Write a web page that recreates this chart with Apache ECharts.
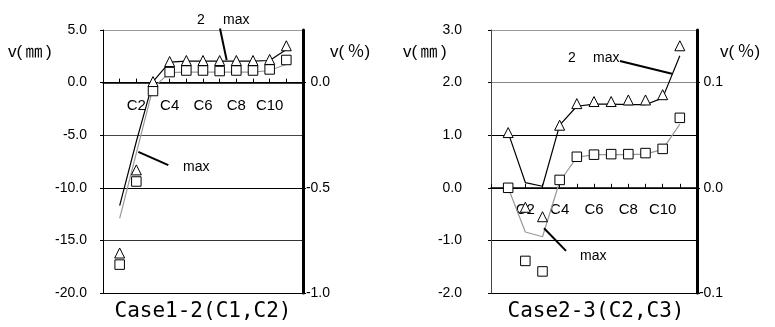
<!DOCTYPE html>
<html><head><meta charset="utf-8">
<script src="https://cdn.jsdelivr.net/npm/echarts@6/dist/echarts.min.js"></script>
<style>html,body{margin:0;padding:0;background:#fff}#c{width:775px;height:327px}</style>
</head><body><div id="c"></div>
<script>
// ---- data ----
const categories = ['C1','C2','C3','C4','C5','C6','C7','C8','C9','C10','C11'];
const xTickLabels = ['C2','C4','C6','C8','C10'];

// Case1-2 (mm)
const case1Tri   = [-16.2, -8.3, 0.1, 2.0, 2.1, 2.1, 2.1, 2.1, 2.1, 2.2, 3.5];
const case1Sq    = [-17.3, -9.4, -0.8, 1.0, 1.15, 1.15, 1.1, 1.15, 1.15, 1.25, 2.15];
const case1Black = [-11.7, -5.6, 0.1, 1.95, 2.05, 2.05, 2.05, 2.05, 2.05, 2.1, 3.15];
const case1Gray  = [-12.9, -6.7, -0.5, 0.95, 1.0, 1.0, 1.0, 1.0, 1.0, 1.15, 1.75];

// Case2-3 (mm)
const case2Tri   = [1.05, -0.37, -0.55, 1.19, 1.6, 1.64, 1.64, 1.67, 1.67, 1.77, 2.7];
const case2Sq    = [0.0, -1.39, -1.59, 0.15, 0.59, 0.63, 0.64, 0.64, 0.66, 0.74, 1.33];
const case2Black = [1.05, 0.1, 0.03, 1.19, 1.55, 1.59, 1.59, 1.58, 1.58, 1.71, 2.51];
const case2Gray  = [0.0, -0.84, -0.93, 0.12, 0.58, 0.63, 0.63, 0.63, 0.64, 0.73, 1.21];

// axis tick values
const case1MmTicks  = [-20, -15, -10, -5, 0, 5];
const case1PctTicks = [-1.0, -0.5, 0.0];
const case2MmTicks  = [-2, -1, 0, 1, 2, 3];
const case2PctTicks = [-0.1, 0.0, 0.1];

// leader lines (data coordinates: x = category position, y = mm)
const case1LeaderTop = [[7.02, 5.15], [7.42, 2.14]];
const case1LeaderLow = [[2.12, -6.58], [3.92, -7.84]];
const case2LeaderTop = [[7.51, 2.41], [10.54, 2.17]];
const case2LeaderLow = [[3.09, -0.77], [4.37, -1.2]];

// ---- chart ----
const pts = arr => categories.map((c, i) => [i + 1, arr[i]]);
const numFont = "'Liberation Sans', Arial, sans-serif";
const gridH = 263;

// offset that puts the category axis on the y = 0 line of the mm scale
const zeroOffset = ticks => -gridH * (0 - ticks[0]) / (ticks[ticks.length - 1] - ticks[0]);

function xAxis(gi, margin, ticks) {
  return {
    type: 'value', gridIndex: gi, min: 0, max: categories.length + 1, interval: 1,
    position: 'bottom', offset: zeroOffset(ticks),
    axisLine: { onZero: false, lineStyle: { color: '#000', width: 1.5 } },
    axisTick: { inside: true, length: 4, lineStyle: { color: '#000', width: 1 } },
    axisLabel: {
      margin: margin, color: '#000', fontSize: 15, fontFamily: numFont,
      formatter: v => { const c = categories[v - 1]; return c && xTickLabels.includes(c) ? c : ''; }
    },
    splitLine: { show: false }
  };
}
function yLeft(gi, ticks, margin, splitColors, axisColor) {
  return {
    type: 'value', gridIndex: gi, position: 'left',
    min: ticks[0], max: ticks[ticks.length - 1], interval: ticks[1] - ticks[0],
    axisLine: { show: true, onZero: false, lineStyle: { color: axisColor, width: 1 } },
    axisTick: { show: true, length: 3, lineStyle: { color: '#000' } },
    axisLabel: { margin: margin, color: '#000', fontSize: 14, fontFamily: numFont, formatter: v => v.toFixed(1) },
    splitLine: { show: true, lineStyle: { color: splitColors, width: 1 } }
  };
}
function yRight(gi, ticks, margin, maxV) {
  return {
    type: 'value', gridIndex: gi, position: 'right',
    min: ticks[0], max: maxV,
    axisLine: { show: true, onZero: false, lineStyle: { color: '#000', width: 3 } },
    axisTick: { show: true, length: 3, customValues: ticks, lineStyle: { color: '#000' } },
    axisLabel: { margin: margin, align: 'right', color: '#000', fontSize: 14, fontFamily: numFont,
      customValues: ticks, formatter: v => v.toFixed(1) },
    splitLine: { show: false }
  };
}
function lineSeries(xi, yi, data, color, width) {
  return { type: 'line', xAxisIndex: xi, yAxisIndex: yi, data: pts(data), symbol: 'none',
    lineStyle: { color: color, width: width }, z: 2, animation: false };
}
function markSeries(xi, yi, data, symbol, size) {
  return { type: 'scatter', xAxisIndex: xi, yAxisIndex: yi, data: pts(data), symbol: symbol, symbolSize: size,
    itemStyle: { color: '#fff', borderColor: '#000', borderWidth: 1, opacity: 1 }, z: 5, animation: false };
}
function leader(xi, yi, data) {
  return { type: 'line', xAxisIndex: xi, yAxisIndex: yi, data: data, symbol: 'none', clip: false,
    lineStyle: { color: '#000', width: 2 }, z: 6, animation: false };
}
function txt(x, y, text, size, family, align) {
  return { type: 'text', x: x, y: y,
    style: { text: text, fontSize: size, fontFamily: family, fill: '#000', align: align || 'left', verticalAlign: 'middle' } };
}

const chart = echarts.init(document.getElementById('c'), null, { renderer: 'canvas' });
const labelFont = "'Liberation Sans', 'Noto Sans CJK JP', sans-serif";
const titleFont = "'DejaVu Sans Mono', monospace";

chart.setOption({
  animation: false,
  backgroundColor: '#fff',
  grid: [
    { left: 103, top: 30, width: 200, height: gridH },
    { left: 491, top: 30, width: 206, height: gridH }
  ],
  xAxis: [xAxis(0, 16, case1MmTicks), xAxis(1, 15, case2MmTicks)],
  yAxis: [
    yLeft(0, case1MmTicks, 16, ['#000', '#333', '#000', '#444', '#000', '#999'], '#000'),
    yRight(0, case1PctTicks, 27, 0.25),
    yLeft(1, case2MmTicks, 29, ['#000', '#000', '#000', '#000', '#888', '#999'], '#444'),
    yRight(1, case2PctTicks, 26, 0.15)
  ],
  series: [
    lineSeries(0, 0, case1Gray, '#999', 1.2),
    lineSeries(0, 0, case1Black, '#000', 1.2),
    markSeries(0, 0, case1Sq, 'rect', 9.5),
    markSeries(0, 0, case1Tri, 'triangle', 10),
    leader(0, 0, case1LeaderTop),
    leader(0, 0, case1LeaderLow),
    lineSeries(1, 2, case2Gray, '#999', 1.2),
    lineSeries(1, 2, case2Black, '#000', 1.2),
    markSeries(1, 2, case2Sq, 'rect', 9.5),
    markSeries(1, 2, case2Tri, 'triangle', 10),
    leader(1, 2, case2LeaderTop),
    leader(1, 2, case2LeaderLow)
  ],
  graphic: [
    txt(8, 52, 'v(\u2009㎜\u2009)', 17, labelFont),
    txt(330, 52, 'v(\u2009％)', 17, labelFont),
    txt(403, 52, 'v(\u2009㎜\u2009)', 17, labelFont),
    txt(720, 52, 'v(\u2009％)', 17, labelFont),
    txt(203, 312, 'Case1-2(C1,C2)', 21, titleFont, 'center'),
    txt(596, 312, 'Case2-3(C2,C3)', 21, titleFont, 'center'),
    txt(197, 20, '2', 14, numFont),
    txt(223, 20, 'max', 14, numFont),
    txt(183, 167, 'max', 14, numFont),
    txt(568, 58, '2', 14, numFont),
    txt(593, 58, 'max', 14, numFont),
    txt(580, 256, 'max', 14, numFont)
  ]
});
</script></body></html>
